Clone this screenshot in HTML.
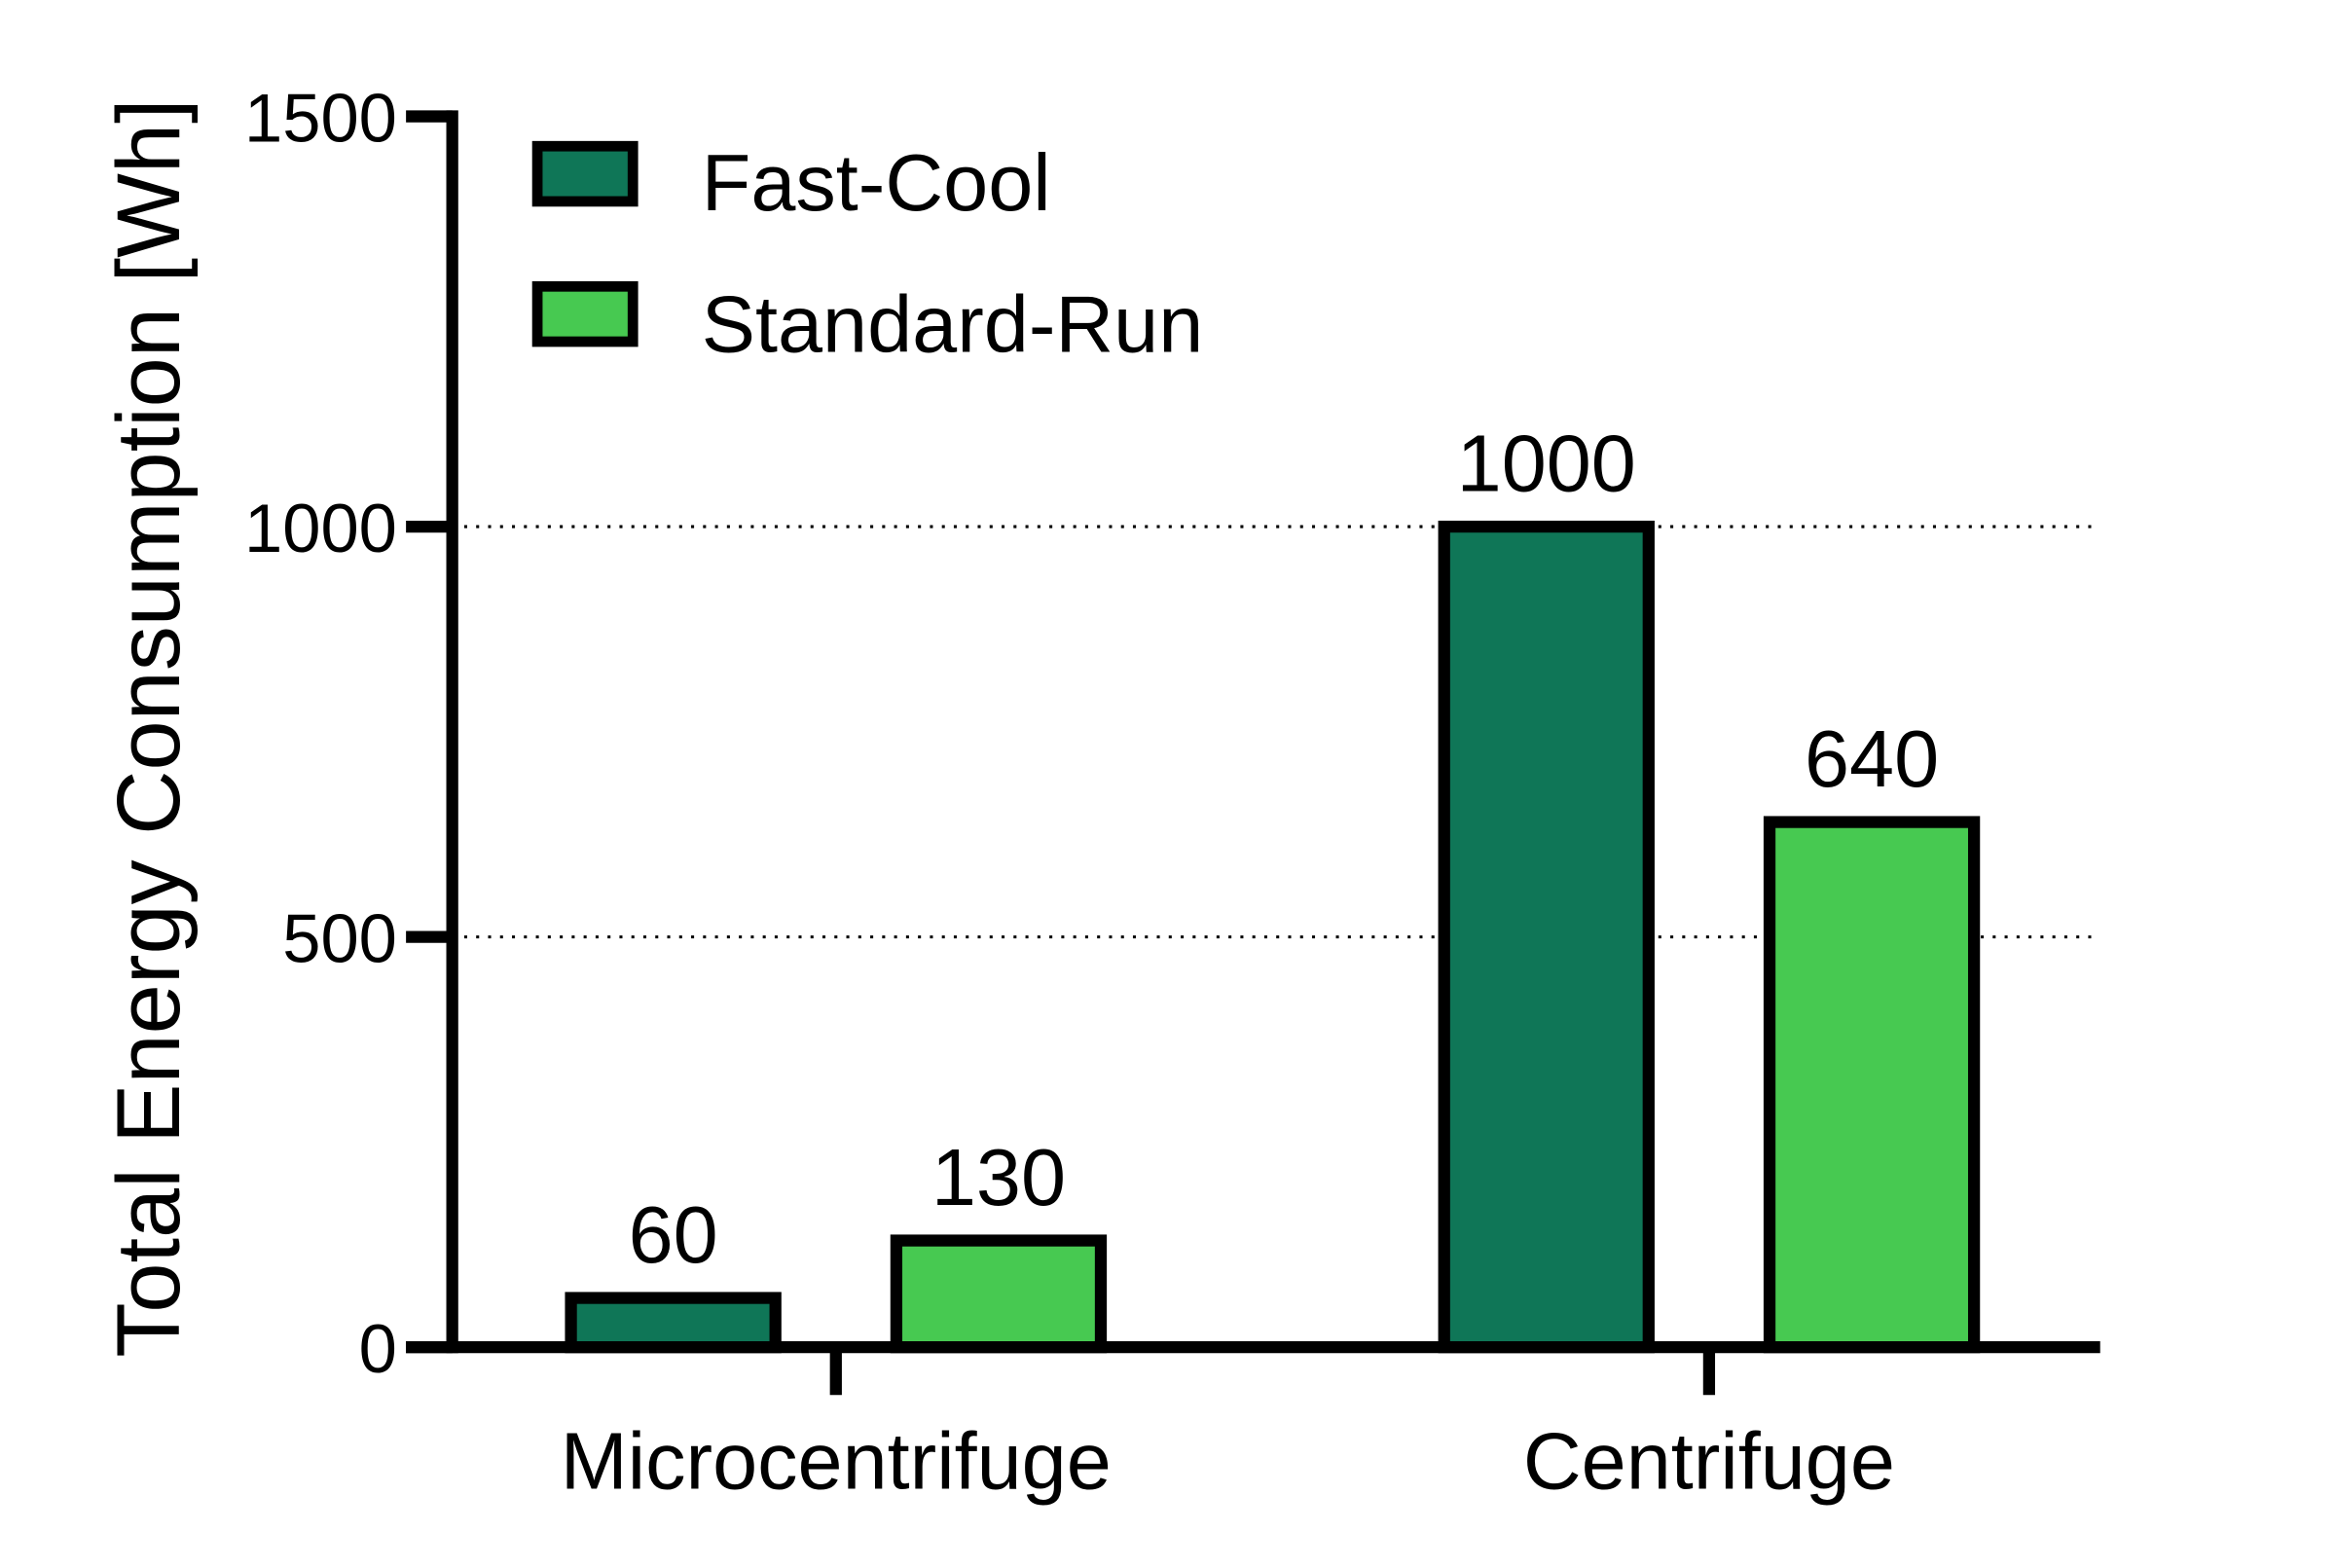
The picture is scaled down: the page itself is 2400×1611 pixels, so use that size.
<!DOCTYPE html>
<html><head><meta charset="utf-8"><style>
html,body{margin:0;padding:0;background:#fff;}
svg{display:block;}
text{font-family:"Liberation Sans",sans-serif;fill:#000;}
</style></head><body>
<svg id="chart" width="2400" height="1611" viewBox="0 0 1565 1051" preserveAspectRatio="none" xmlns="http://www.w3.org/2000/svg">
<g id="grid"></g>
<g id="bars"></g>
<g id="axes"></g>
<text transform="translate(120,488) rotate(-90)" text-anchor="middle" font-size="60">Total Energy Consumption [Wh]</text>
<g>
<rect x="360" y="98" width="64" height="37" fill="#0f7657" stroke="#000" stroke-width="7"/>
<text x="470" y="141" font-size="54">Fast-Cool</text>
<rect x="360" y="192" width="64" height="37" fill="#47c951" stroke="#000" stroke-width="7"/>
<text x="470" y="236" font-size="54">Standard-Run</text>
</g>
</svg>
<script>
const categories = ["Microcentrifuge", "Centrifuge"];
const fastCool = [60, 1000];
const standardRun = [130, 640];
const yTicks = [0, 500, 1000, 1500];
const gridValues = [500, 1000];

const NS = "http://www.w3.org/2000/svg";
const y0 = 903, yTop = 78, vMax = 1500;
function yScale(v){ return y0 - (v / vMax) * (y0 - yTop); }
const catCenters = [560, 1145];
function xCat(i){ return catCenters[0] + i * (catCenters[1] - catCenters[0]); }
const barW = 137, offset = 109;
function mk(tag, attrs, parent){ const e = document.createElementNS(NS, tag); for (const k in attrs) e.setAttribute(k, attrs[k]); parent.appendChild(e); return e; }

const grid = document.getElementById('grid');
gridValues.forEach(v => {
  const l = mk('line', {x1: 303, x2: 1403, y1: yScale(v), y2: yScale(v), stroke: '#000', 'stroke-width': 2, 'stroke-dasharray': '2 6'}, grid);
  
  
});

const bars = document.getElementById('bars');
function drawSeries(vals, dx, color, name){
  vals.forEach((v, i) => {
    const cx = xCat(i) + dx;
    const r = mk('rect', {x: cx - barW/2, y: yScale(v), width: barW, height: y0 - yScale(v), fill: color, stroke: '#000', 'stroke-width': 8}, bars);
    
    
    const t = mk('text', {x: cx, y: yScale(v) - 24, 'text-anchor': 'middle', 'font-size': 54}, bars);
    t.textContent = v;
    
    
  });
}
drawSeries(fastCool, -offset, '#0f7657', 'fast-cool');
drawSeries(standardRun, offset, '#47c951', 'standard-run');

const axes = document.getElementById('axes');
const ya = mk('line', {x1: 303, x2: 303, y1: 74, y2: 907, stroke: '#000', 'stroke-width': 8}, axes);


const xa = mk('line', {x1: 272, x2: 1407, y1: y0, y2: y0, stroke: '#000', 'stroke-width': 8}, axes);


yTicks.forEach(v => {
  const tk = mk('line', {x1: 272, x2: 303, y1: yScale(v), y2: yScale(v), stroke: '#000', 'stroke-width': 8}, axes);
  
  
  const t = mk('text', {x: 266, y: yScale(v) + 17, 'text-anchor': 'end', 'font-size': 46}, axes);
  t.textContent = v;
  
  
});
categories.forEach((c, i) => {
  const tk = mk('line', {x1: xCat(i), x2: xCat(i), y1: y0, y2: 935, stroke: '#000', 'stroke-width': 8}, axes);
  
  
  const t = mk('text', {x: xCat(i), y: 998, 'text-anchor': 'middle', 'font-size': 54}, axes);
  t.textContent = c;
  
  
});
</script>
</body></html>
